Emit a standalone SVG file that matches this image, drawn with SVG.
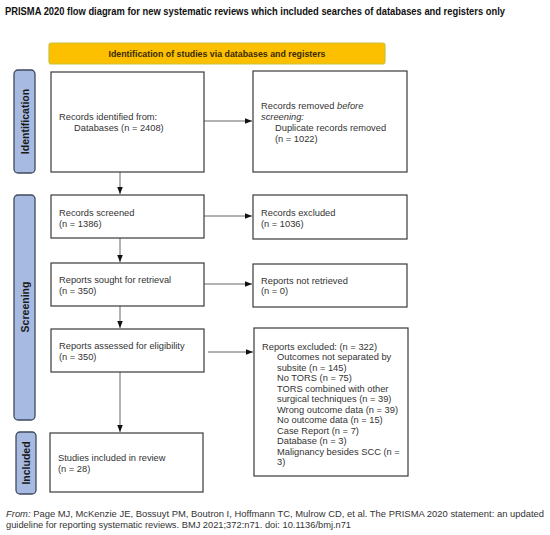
<svg xmlns="http://www.w3.org/2000/svg" width="550" height="535" viewBox="0 0 550 535">
<style>
.t{font-family:"Liberation Sans",Arial,sans-serif;font-size:9.3px;fill:#333}
.b{font-family:"Liberation Sans",Arial,sans-serif;font-weight:bold}
.box{fill:#fff;stroke:#3a3a3a;stroke-width:1.2}
.side{fill:#a7bbe2;stroke:#3f4a5e;stroke-width:1.3}
.side-t{font-family:"Liberation Sans",Arial,sans-serif;font-weight:bold;font-size:10.5px;fill:#1a1a1a}
.c{stroke:#666;stroke-width:1;fill:none;marker-end:url(#ah)}
</style>
<defs>
<marker id="ah" viewBox="0 0 10 10" refX="10" refY="5" markerWidth="7" markerHeight="7" markerUnits="userSpaceOnUse" orient="auto">
<path d="M0,1 L10,5 L0,9 z" fill="#111"/>
</marker>
</defs>
<rect width="550" height="535" fill="#fff"/>
<text class="b" x="5" y="14.5" font-size="10" fill="#111" textLength="500" lengthAdjust="spacingAndGlyphs">PRISMA 2020 flow diagram for new systematic reviews which included searches of databases and registers only</text>

<g id="banner">
<rect x="49" y="43" width="336" height="21" rx="2.5" fill="#fcc000" stroke="#c9c23a" stroke-width="1.2"/>
<text class="b" x="217" y="57" font-size="8.5" fill="#3a2a00" text-anchor="middle" textLength="217" lengthAdjust="spacingAndGlyphs">Identification of studies via databases and registers</text>
</g>

<g id="side-identification">
<rect class="side" x="14" y="70" width="21" height="103" rx="4"/>
<text class="side-t" transform="translate(28.5,121.5) rotate(-90)" text-anchor="middle">Identification</text>
</g>
<g id="side-screening">
<rect class="side" x="14" y="195" width="21" height="225" rx="4"/>
<text class="side-t" transform="translate(28.5,307) rotate(-90)" text-anchor="middle">Screening</text>
</g>
<g id="side-included">
<rect class="side" x="16" y="432" width="20" height="62" rx="4"/>
<text class="side-t" transform="translate(29.5,463) rotate(-90)" text-anchor="middle">Included</text>
</g>

<g id="connectors">
<line class="c" x1="120" y1="172" x2="120" y2="194"/>
<line class="c" x1="120" y1="238" x2="120" y2="262"/>
<line class="c" x1="120" y1="306" x2="120" y2="328"/>
<line class="c" x1="120" y1="372" x2="120" y2="432"/>
<line class="c" x1="204" y1="121" x2="252" y2="121"/>
<line class="c" x1="204" y1="216" x2="252" y2="216"/>
<line class="c" x1="204" y1="284" x2="252" y2="284"/>
<line class="c" x1="208" y1="352" x2="253" y2="352"/>
</g>

<g id="records-identified">
<rect class="box" x="51" y="72" width="153" height="100"/>
<text class="t" x="59" y="120">Records identified from:</text>
<text class="t" x="74" y="131">Databases (n = 2408)</text>
</g>

<g id="records-removed">
<rect class="box" x="253" y="71" width="154" height="101"/>
<text class="t" x="261" y="109">Records removed <tspan font-style="italic">before</tspan></text>
<text class="t" x="261" y="120" font-style="italic">screening:</text>
<text class="t" x="275" y="130.5">Duplicate records removed</text>
<text class="t" x="275" y="142">(n = 1022)</text>
</g>

<g id="records-screened">
<rect class="box" x="51" y="195" width="153" height="43"/>
<text class="t" x="59" y="215.5">Records screened</text>
<text class="t" x="59" y="226.5">(n = 1386)</text>
</g>

<g id="records-excluded">
<rect class="box" x="253" y="195" width="154" height="44"/>
<text class="t" x="261" y="215.5">Records excluded</text>
<text class="t" x="261" y="226.5">(n = 1036)</text>
</g>

<g id="reports-sought">
<rect class="box" x="51" y="263" width="153" height="43"/>
<text class="t" x="59" y="282.5">Reports sought for retrieval</text>
<text class="t" x="59" y="293.5">(n = 350)</text>
</g>

<g id="reports-not-retrieved">
<rect class="box" x="253" y="264" width="154" height="43"/>
<text class="t" x="261" y="283.5">Reports not retrieved</text>
<text class="t" x="261" y="294">(n = 0)</text>
</g>

<g id="reports-assessed">
<rect class="box" x="51" y="329" width="153" height="43"/>
<text class="t" x="59" y="349">Reports assessed for eligibility</text>
<text class="t" x="59" y="359.5">(n = 350)</text>
</g>

<g id="reports-excluded">
<rect class="box" x="254" y="328" width="154" height="148"/>
<text class="t" x="262" y="349.5">Reports excluded: (n = 322)</text>
<text class="t" x="277" y="360">Outcomes not separated by</text>
<text class="t" x="277" y="370.5">subsite (n = 145)</text>
<text class="t" x="277" y="381">No TORS (n = 75)</text>
<text class="t" x="277" y="391.5">TORS combined with other</text>
<text class="t" x="277" y="402">surgical techniques (n = 39)</text>
<text class="t" x="277" y="412.5">Wrong outcome data (n = 39)</text>
<text class="t" x="277" y="423">No outcome data (n = 15)</text>
<text class="t" x="277" y="433.5">Case Report (n = 7)</text>
<text class="t" x="277" y="444">Database (n = 3)</text>
<text class="t" x="277" y="454.5">Malignancy besides SCC (n =</text>
<text class="t" x="277" y="465">3)</text>
</g>

<g id="studies-included">
<rect class="box" x="50" y="433" width="153" height="59"/>
<text class="t" x="58" y="461">Studies included in review</text>
<text class="t" x="58" y="472">(n = 28)</text>
</g>

<g id="footer">
<text class="t" x="6" y="517" font-size="8.6" textLength="538" lengthAdjust="spacingAndGlyphs"><tspan font-style="italic">From:</tspan>  Page MJ, McKenzie JE, Bossuyt PM, Boutron I, Hoffmann TC, Mulrow CD, et al. The PRISMA 2020 statement: an updated</text>
<text class="t" x="6" y="527.5" font-size="8.6">guideline for reporting systematic reviews. BMJ 2021;372:n71. doi: 10.1136/bmj.n71</text>
</g>
</svg>
